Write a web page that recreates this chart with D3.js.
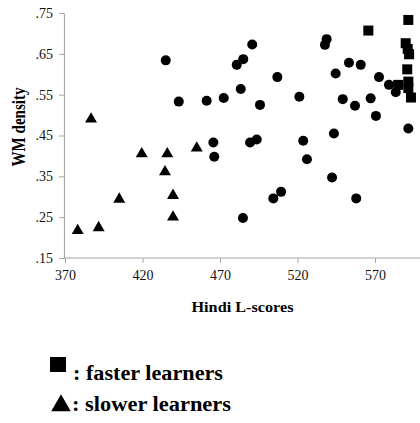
<!DOCTYPE html>
<html><head><meta charset="utf-8">
<script src="https://cdn.jsdelivr.net/npm/d3@7"></script>
<style>
html,body{margin:0;padding:0;background:#fff;}
svg{display:block;}
text{font-family:"Liberation Serif","Times New Roman",serif;}
</style></head>
<body>
<svg id="chart" width="420" height="423"></svg>
<script>
// Hindi L-score, WM density
const fasterX = [591.5, 565.7, 589.8, 591.1, 592.0, 590.8, 585.0, 591.5, 591.5, 593.2];
const fasterY = [0.733, 0.707, 0.676, 0.662, 0.649, 0.612, 0.574, 0.582, 0.566, 0.543];

const slowerX = [386.8, 419.5, 436.0, 455.0, 434.5, 439.7, 439.7, 405.0, 378.2, 391.7];
const slowerY = [0.490, 0.405, 0.405, 0.419, 0.361, 0.303, 0.250, 0.294, 0.217, 0.224];

const otherX = [435.0, 443.4, 461.4, 472.4, 480.8, 485.0, 490.8, 483.4, 495.8, 507.0,
                521.2, 537.7, 538.8, 544.6, 553.2, 560.8, 549.2, 557.1, 567.2, 572.6,
                579.0, 583.4, 570.6, 591.5, 543.5, 523.7, 493.7, 489.4, 465.7, 466.3,
                526.1, 542.3, 557.9, 509.4, 504.4, 484.8];
const otherY = [0.634, 0.533, 0.535, 0.542, 0.623, 0.637, 0.673, 0.564, 0.525, 0.593,
                0.545, 0.672, 0.686, 0.602, 0.628, 0.623, 0.539, 0.523, 0.541, 0.593,
                0.574, 0.556, 0.498, 0.467, 0.455, 0.437, 0.440, 0.433, 0.433, 0.398,
                0.392, 0.347, 0.296, 0.312, 0.296, 0.248];

const xTicks = [370, 420, 470, 520, 570];
const yTicks = [0.15, 0.25, 0.35, 0.45, 0.55, 0.65, 0.75];
const xTitle = "Hindi L-scores";
const yTitle = "WM density";
const legendLabels = [": faster learners", ": slower learners"];

const svg = d3.select("#chart");
const x = d3.scaleLinear().domain([370, 600]).range([65, 421.5]);
const y = d3.scaleLinear().domain([0.15, 0.75]).range([258, 13]);
const axisColor = "#a6a6a6";

const gx = svg.append("g").attr("transform", "translate(0,258)")
  .call(d3.axisBottom(x).tickValues(xTicks).tickSize(5).tickSizeOuter(0).tickPadding(7));
const gy = svg.append("g").attr("transform", "translate(64,0)")
  .call(d3.axisLeft(y).tickValues(yTicks).tickSize(5).tickSizeOuter(0).tickPadding(6)
    .tickFormat(d => d3.format(".2f")(d).replace(/^0/, "")));
[gx, gy].forEach(g => {
  g.select(".domain").attr("stroke", axisColor).attr("stroke-width", 1.2);
  g.selectAll(".tick line").attr("stroke", axisColor);
  g.selectAll(".tick text").attr("fill", "#111").style("font-size", "14px")
    .style("font-family", "'Liberation Serif', serif");
});
gx.select(".domain").attr("d", "M64,0H420");

// titles
svg.append("text").attr("x", 242.5).attr("y", 312).attr("text-anchor", "middle")
  .attr("textLength", 102).attr("lengthAdjust", "spacingAndGlyphs")
  .style("font-size", "15px").style("font-weight", "bold").text(xTitle);
svg.append("text").attr("transform", "translate(25,127) rotate(-90)").attr("text-anchor", "middle")
  .attr("textLength", 79).attr("lengthAdjust", "spacingAndGlyphs")
  .style("font-size", "18px").style("font-weight", "bold").text(yTitle);

// marks
const tri = d3.symbol().type(d3.symbolTriangle).size(62);
const plot = svg.append("g");
plot.selectAll("circle.o").data(otherX.map((v, i) => [v, otherY[i]])).join("circle")
  .attr("class", "o").attr("cx", d => x(d[0])).attr("cy", d => y(d[1])).attr("r", 5).attr("fill", "#000");
plot.selectAll("path.s").data(slowerX.map((v, i) => [v, slowerY[i]])).join("path")
  .attr("class", "s").attr("d", tri).attr("transform", d => `translate(${x(d[0])},${y(d[1])})`).attr("fill", "#000");
plot.selectAll("rect.f").data(fasterX.map((v, i) => [v, fasterY[i]])).join("rect")
  .attr("class", "f").attr("x", d => x(d[0]) - 5).attr("y", d => y(d[1]) - 5)
  .attr("width", 10).attr("height", 10).attr("fill", "#000");

// legend
svg.append("rect").attr("x", 50).attr("y", 357).attr("width", 16).attr("height", 15).attr("fill", "#000");
svg.append("path").attr("d", d3.symbol().type(d3.symbolTriangle).size(165))
  .attr("transform", "translate(61,405.5)").attr("fill", "#000");
svg.append("text").attr("x", 73).attr("y", 380).attr("textLength", 150).attr("lengthAdjust", "spacingAndGlyphs")
  .style("font-size", "20px").style("font-weight", "bold").text(legendLabels[0]);
svg.append("text").attr("x", 72).attr("y", 411).attr("textLength", 159).attr("lengthAdjust", "spacingAndGlyphs")
  .style("font-size", "20px").style("font-weight", "bold").text(legendLabels[1]);
</script>
</body></html>
